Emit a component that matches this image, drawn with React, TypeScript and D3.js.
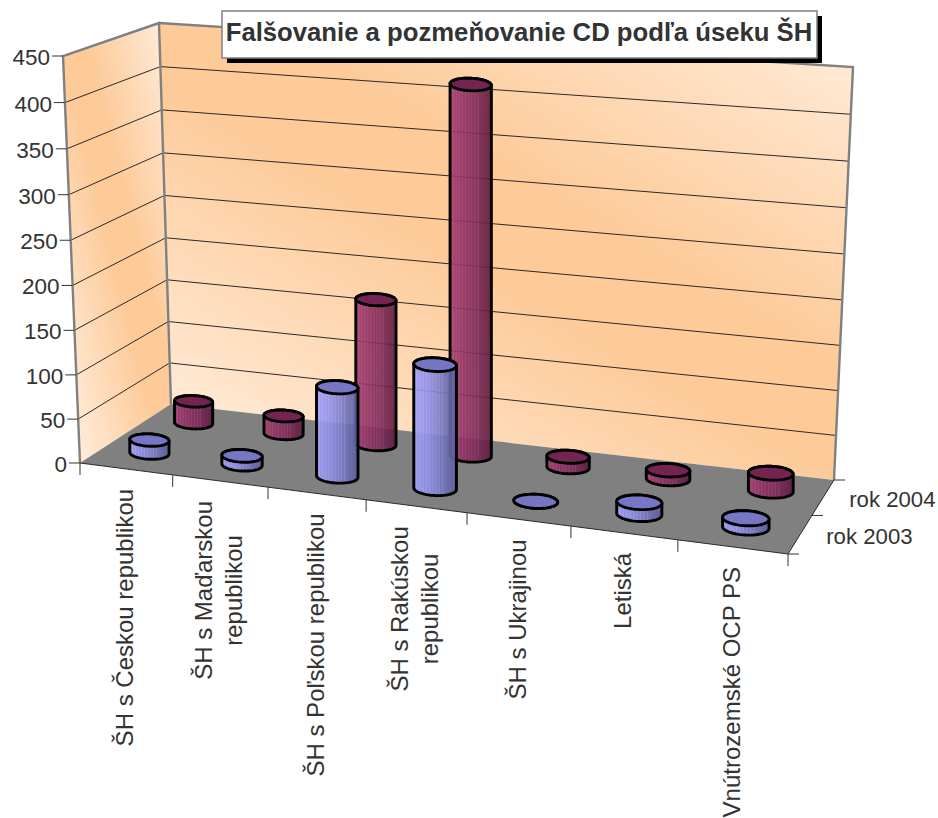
import React from "react";
import * as d3 from "d3";

const categories = [
  ["ŠH s Českou republikou"],
  ["ŠH s Maďarskou", "republikou"],
  ["ŠH s Poľskou republikou"],
  ["ŠH s Rakúskou", "republikou"],
  ["ŠH s Ukrajinou"],
  ["Letiská"],
  ["Vnútrozemské OCP PS"],
];
const seriesNames = ["rok 2003", "rok 2004"];
const values2003 = [15, 10, 100, 137, 0, 13, 10];
const values2004 = [26, 21, 167, 415, 12, 10, 20];
const valueTicks = [0, 50, 100, 150, 200, 250, 300, 350, 400, 450];
const titleText = "Falšovanie a pozmeňovanie CD podľa úseku ŠH";

type P = [number, number];
const FONT = "'Liberation Sans', Arial, sans-serif";
const W = 938;
const H = 818;

// quad corners: front-left, front-right, back-right, back-left
const floorQuad: P[] = [[80, 463], [788, 554], [834, 480], [171, 404]];
const topQuad: P[] = [[63, 56], [808, 113], [853, 67], [159, 23]];

function homography(q: P[]) {
  const [[x0, y0], [x1, y1], [x2, y2], [x3, y3]] = q;
  const dx1 = x1 - x2, dx2 = x3 - x2, sx = x0 - x1 + x2 - x3;
  const dy1 = y1 - y2, dy2 = y3 - y2, sy = y0 - y1 + y2 - y3;
  const det = dx1 * dy2 - dx2 * dy1;
  const g = (sx * dy2 - dx2 * sy) / det;
  const h = (dx1 * sy - sx * dy1) / det;
  const a = x1 - x0 + g * x1, b = x3 - x0 + h * x3, c = x0;
  const d = y1 - y0 + g * y1, e = y3 - y0 + h * y3, f = y0;
  return (u: number, v: number): P => {
    const w = g * u + h * v + 1;
    return [(a * u + b * v + c) / w, (d * u + e * v + f) / w];
  };
}
const floorH = homography(floorQuad);
const topH = homography(topQuad);

const uScale = d3.scaleBand<number>().domain(categories.map((_, i) => i)).range([0, 1]);
const vScale = d3.scaleBand<number>().domain([0, 1]).range([0, 1]);
const wScale = d3.scaleLinear().domain([0, 450]).range([0, 1]);
const persp = 0.034;

function project(u0: number, v: number, value: number): P {
  const u = u0 + 0.032 * u0 * (1 - u0);
  const t = wScale(value);
  const w = t / (1 + persp - persp * t);
  const a = floorH(u, v);
  const b = topH(u, v);
  return [a[0] + (b[0] - a[0]) * w, a[1] + (b[1] - a[1]) * w + (t > 0 ? 0 : 0)];
}

const line = d3.line<P>();
const poly = (pts: P[]) => line(pts) + "Z";

const RU = uScale.bandwidth() * 0.215;
const RV = vScale.bandwidth() * 0.2;

function Cylinder({ i, s, value, fillId, topFill }: { i: number; s: number; value: number; fillId: string; topFill: string }) {
  const cu = uScale(i)! + uScale.bandwidth() / 2;
  const cv = vScale(s)! + vScale.bandwidth() / 2;
  const c = project(cu, cv, 0);
  const e = project(cu + RU, cv, 0);
  const l = project(cu - RU, cv, 0);
  const d = project(cu, cv + RV, 0);
  const rx = (e[0] - l[0]) / 2;
  const tilt = ((e[1] - l[1]) / 2) * 0.35;
  const ry = c[1] - d[1];
  const topY = project(cu, cv, value)[1];
  const angles = d3.range(0, 2 * Math.PI, Math.PI / 30);
  const ring = (cy: number) =>
    angles.map((a): P => [c[0] + rx * Math.cos(a), cy + tilt * Math.cos(a) + ry * Math.sin(a)]);
  const base = ring(c[1]);
  const top = ring(topY);
  const hull = d3.polygonHull([...base, ...top]) as P[];
  return (
    <g stroke="#000" strokeWidth={2.9} strokeLinejoin="round">
      <path d={poly(hull)} fill={`url(#${fillId})`} fillOpacity={0.9} />
      <path d={poly(top)} fill={topFill} />
    </g>
  );
}

function stripes(colors: string[], light: string) {
  const stops: { o: number; c: string }[] = [];
  const scale = d3.scaleLinear<string>().domain(colors.map((_, k) => k / (colors.length - 1))).range(colors);
  for (let k = 0; k <= 40; k++) {
    const o = k / 40;
    const streak = k % 3 === 0 && o < 0.7;
    stops.push({ o, c: streak ? d3.interpolateRgb(scale(o), light)(0.14) : scale(o) });
  }
  return stops;
}

const measure = (() => {
  let ctx: CanvasRenderingContext2D | null = null;
  return (t: string, font: string) => {
    if (!ctx) ctx = document.createElement("canvas").getContext("2d");
    ctx!.font = font;
    return ctx!.measureText(t).width;
  };
})();

export default function App() {
  const catFs = 24;
  const valFs = 22.5;
  const serFs = 22.2;
  const axisColor = "#333";
  const backTop = [project(0, 1, 450), project(1, 1, 450)];
  const backWall = [project(0, 1, 0), project(1, 1, 0), project(1, 1, 450), project(0, 1, 450)];
  const leftWall = [project(0, 0, 0), project(0, 1, 0), project(0, 1, 450), project(0, 0, 450)];
  const floor = [project(0, 0, 0), project(1, 0, 0), project(1, 1, 0), project(0, 1, 0)];
  const uTicks = d3.range(0, categories.length + 1).map((k) => k / categories.length);
  const vTicks = [0, 0.5, 1];
  const blue = stripes(["#9c9cf8", "#8d8de8", "#7474c0", "#5c5c9c"], "#ffffff");
  const red = stripes(["#a03a70", "#8c2c60", "#782654", "#5c1a3e"], "#ffb0d0");
  const wallStops = (
    <>
      <stop offset="0" stopColor="#ffead6" />
      <stop offset="0.43" stopColor="#fdca98" />
      <stop offset="0.57" stopColor="#fdca98" />
      <stop offset="1" stopColor="#ffead6" />
    </>
  );
  return (
    <svg width={W} height={H} style={{ position: "absolute", left: 0, top: 0, background: "#fff" }} fontFamily={FONT}>
      <defs>
        <linearGradient id="backGrad" gradientUnits="userSpaceOnUse" x1={347} y1={508} x2={673} y2={-48}>
          {wallStops}
        </linearGradient>
        <linearGradient id="leftGrad" gradientUnits="userSpaceOnUse" x1={33} y1={252} x2={207} y2={208}>
          {wallStops}
        </linearGradient>
        <linearGradient id="blueBody" x1="0" x2="1" y1="0" y2="0">
          {blue.map((s, k) => <stop key={k} offset={s.o} stopColor={s.c} />)}
        </linearGradient>
        <linearGradient id="redBody" x1="0" x2="1" y1="0" y2="0">
          {red.map((s, k) => <stop key={k} offset={s.o} stopColor={s.c} />)}
        </linearGradient>
      </defs>

      <path d={poly(backWall)} fill="url(#backGrad)" />
      <path d={poly(leftWall)} fill="url(#leftGrad)" />

      {valueTicks.filter((t) => t > 0 && t < 450).map((t) => (
        <path key={t} d={line([project(0, 0, t), project(0, 1, t), project(1, 1, t)])!} fill="none" stroke="#2a2a2a" strokeWidth={1} />
      ))}

      <path d={poly(floor)} fill="#808080" />

      {/* wall frames */}
      <path d={line([project(0, 0, 0), project(0, 0, 450), project(0, 1, 450), project(0, 1, 0)])!} fill="none" stroke="#808080" strokeWidth={2.4} />
      <path d={line([backTop[0], backTop[1], project(1, 1, 0)])!} fill="none" stroke="#808080" strokeWidth={2.4} />

      {/* floor edges */}
      <path d={line([project(0, 0, 0), project(1, 0, 0), project(1, 1, 0)])!} fill="none" stroke="#2a2a2a" strokeWidth={1} />

      {/* value ticks */}
      {valueTicks.map((t) => {
        const [x, y] = project(0, 0, t);
        return (
          <g key={t}>
            <line x1={x - 11} x2={x} y1={y} y2={y} stroke="#333" strokeWidth={1} />
            <text x={x - 13} y={y + 9} textAnchor="end" fontSize={valFs} fill={axisColor}>{t}</text>
          </g>
        );
      })}

      {/* category ticks */}
      {uTicks.map((u) => {
        const [x, y] = project(u, 0, 0);
        return <line key={u} x1={x} x2={x} y1={y} y2={y + 12} stroke="#333" strokeWidth={1} />;
      })}

      {/* depth ticks */}
      {vTicks.map((v) => {
        const [x, y] = project(1, v, 0);
        return <line key={v} x1={x} x2={x + 11} y1={y} y2={y} stroke="#333" strokeWidth={1} />;
      })}
      {seriesNames.map((n, s) => {
        const [x, y] = project(1, vScale(s)! + vScale.bandwidth() / 2, 0);
        return <text key={n} x={x + 26} y={y + 10} fontSize={serFs} fill={axisColor}>{n}</text>;
      })}

      {/* category labels */}
      {categories.map((lines, i) => {
        const [cx, cy] = project(uScale(i)! + uScale.bandwidth() / 2, 0, 0);
        const w = Math.max(...lines.map((l) => measure(l, `${catFs}px 'Liberation Sans'`)));
        const midY = cy + 20 + w / 2;
        const spacing = 30;
        return lines.map((l, k) => {
          const bx = cx + 7 + (k - (lines.length - 1) / 2) * spacing;
          return (
            <text key={l} transform={`translate(${bx},${midY}) rotate(-90)`} textAnchor="middle" fontSize={catFs} fill={axisColor}>{l}</text>
          );
        });
      })}

      {/* cylinders: back row first */}
      {values2004.map((v, i) => <Cylinder key={i} i={i} s={1} value={v} fillId="redBody" topFill="#732450" />)}
      {values2003.map((v, i) => <Cylinder key={i} i={i} s={0} value={v} fillId="blueBody" topFill="#7676c4" />)}

      {/* title */}
      <rect x={227} y={16} width={595} height={47} fill="#000" />
      <rect x={222} y={11} width={595} height={47} fill="#fff" stroke="#808080" strokeWidth={1.5} />
      <text x={519} y={41} textAnchor="middle" fontSize={25.7} fontWeight="bold" fill="#333">{titleText}</text>
    </svg>
  );
}
